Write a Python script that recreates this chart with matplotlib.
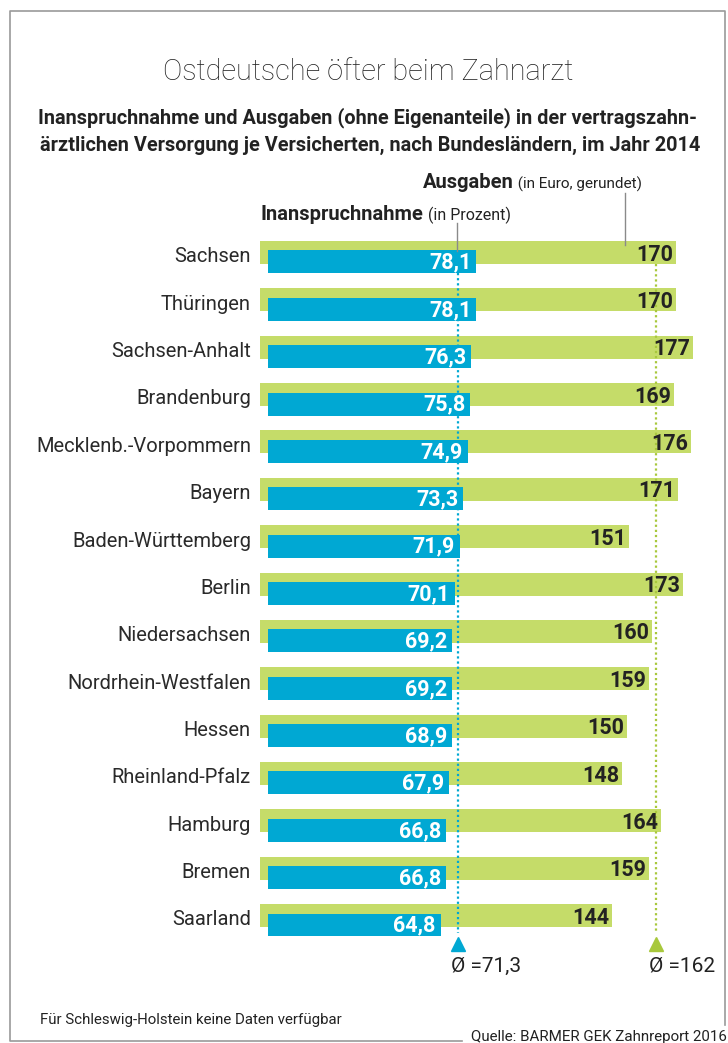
import numpy as np
import matplotlib.pyplot as plt

plt.rcParams['font.family'] = ['Roboto', 'DejaVu Sans']

# data
states = ['Sachsen', 'Thüringen', 'Sachsen-Anhalt', 'Brandenburg',
          'Mecklenb.-Vorpommern', 'Bayern', 'Baden-Württemberg', 'Berlin',
          'Niedersachsen', 'Nordrhein-Westfalen', 'Hessen', 'Rheinland-Pfalz',
          'Hamburg', 'Bremen', 'Saarland']
inanspruchnahme = [78.1, 78.1, 76.3, 75.8, 74.9, 73.3, 71.9, 70.1,
                   69.2, 69.2, 68.9, 67.9, 66.8, 66.8, 64.8]
ausgaben = [170, 170, 177, 169, 176, 171, 151, 173,
            160, 159, 150, 148, 164, 159, 144]
mean_inanspruchnahme = 71.3
mean_ausgaben = 162

green = '#c5dc69'
green_dark = '#a8c83c'
blue = '#00a8d3'
dark = '#222222'

W, H = 728, 1043
fig = plt.figure(figsize=(W / 100, H / 100), dpi=100)

# pixel layout of the bar area
row0, step = 252.5, 47.36
top_px, bot_px = 160, 1000
ax = fig.add_axes([260 / W, 1 - bot_px / H, 468 / W, (bot_px - top_px) / H])
ax.set_xlim(0, 468 / 2.447)          # euro scale
ax.set_ylim((bot_px - row0) / step, (top_px - row0) / step)
ax2 = ax.twiny()
ax2.set_xlim(-8 / 2.665, 460 / 2.665)  # percent scale

for a in (ax, ax2):
    for s in a.spines.values():
        s.set_visible(False)
    a.set_xticks([])
    a.patch.set_alpha(0)

idx = np.arange(len(states))
ax.barh(idx, ausgaben, height=0.485, color=green, zorder=1)
ax2.barh(idx + 0.2, inanspruchnahme, height=0.485, color=blue, zorder=1)

ax.set_yticks(idx + 0.05, states)
ax.tick_params(axis='y', length=0, pad=6.5, labelsize=14.5, labelcolor='#2a2a2a')

# mean lines
end = 14.37
ax2.vlines(mean_inanspruchnahme, 0.44, end, color=blue, lw=1.6,
           linestyles=(0, (1, 1.3)), zorder=3)
ax.vlines(mean_ausgaben, 0.24, end, color=green_dark, lw=1.6,
          linestyles=(0, (1, 1.3)), zorder=3)
ax2.plot(mean_inanspruchnahme, 14.6, marker='^', ms=10, color=blue,
         clip_on=False, zorder=4)
ax.plot(mean_ausgaben, 14.6, marker='^', ms=10, color=green_dark,
        clip_on=False, zorder=4)
ax2.annotate('Ø =' + f'{mean_inanspruchnahme:.1f}'.replace('.', ','),
             xy=(mean_inanspruchnahme, 14.6), xytext=(-5, -16),
             textcoords='offset points', ha='left', va='center',
             fontsize=15, color=dark)
ax.annotate('Ø =' + str(mean_ausgaben),
            xy=(mean_ausgaben, 14.6), xytext=(-5, -16),
            textcoords='offset points', ha='left', va='center',
            fontsize=15, color=dark, zorder=5)

# value labels
for i, (p, e) in enumerate(zip(inanspruchnahme, ausgaben)):
    ax.annotate(str(e), xy=(e, i), xytext=(-2, -1.5), textcoords='offset points',
                ha='right', va='center', fontsize=15.5, fontweight='bold',
                color=dark, zorder=5)
    ax2.annotate(f'{p:.1f}'.replace('.', ','), xy=(p, i + 0.2), xytext=(-3.5, -0.5),
                 textcoords='offset points', ha='right', va='center',
                 fontsize=15.5, fontweight='bold', color='white', zorder=5)

# overlay in pixel coordinates for titles, legend texts and frame
ov = fig.add_axes([0, 0, 1, 1], zorder=10)
ov.set_xlim(0, W)
ov.set_ylim(H, 0)
ov.axis('off')

ov.plot([462, 10, 10, 725, 725], [1041, 1041, 11, 11, 1025],
        color='#9a9a9a', lw=1.2)

ov.text(368, 72, 'Ostdeutsche öfter beim Zahnarzt', ha='center', va='center',
        fontsize=20.8, fontweight='light', color=dark)
ov.text(367, 118, 'Inanspruchnahme und Ausgaben (ohne Eigenanteile) in der vertragszahn-',
        ha='center', va='center', fontsize=14.3, fontweight='bold', color=dark)
ov.text(370, 145, 'ärztlichen Versorgung je Versicherten, nach Bundesländern, im Jahr 2014',
        ha='center', va='center', fontsize=14.3, fontweight='bold', color=dark)

t1 = ov.text(423, 188, 'Ausgaben', ha='left', va='baseline', fontsize=14.5,
             fontweight='bold', color=dark)
ov.annotate(' (in Euro, gerundet)', xy=(1, 0), xycoords=t1, ha='left',
            va='bottom', fontsize=11, color=dark)
t2 = ov.text(261, 220, 'Inanspruchnahme', ha='left', va='baseline', fontsize=14.5,
             fontweight='bold', color=dark)
ov.annotate(' (in Prozent)', xy=(1, 0), xycoords=t2, ha='left',
            va='bottom', fontsize=11.5, color=dark)

ov.plot([625, 625], [193, 245], color='#8a8a8a', lw=1)
ov.plot([457, 457], [223, 251], color='#8a8a8a', lw=1)

ov.text(40, 1020, 'Für Schleswig-Holstein keine Daten verfügbar', ha='left',
        va='center', fontsize=10.8, color=dark)
ov.text(727, 1041, 'Quelle: BARMER GEK Zahnreport 2016', ha='right',
        va='baseline', fontsize=10.9, color=dark)

fig.savefig('out.png', dpi=100, facecolor='white')
